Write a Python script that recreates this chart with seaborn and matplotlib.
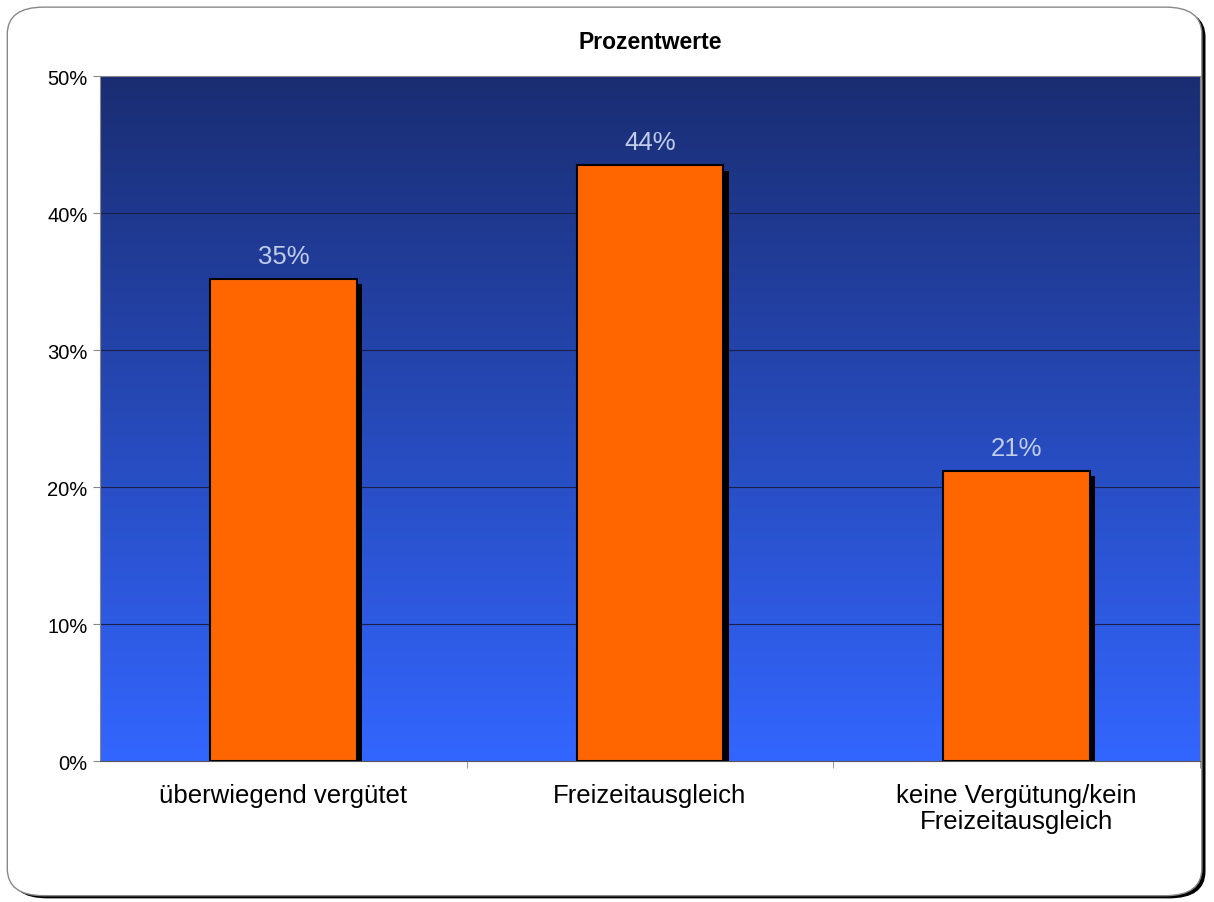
import matplotlib.pyplot as plt
import matplotlib.patheffects as pe
from matplotlib.colors import LinearSegmentedColormap
from matplotlib.patches import FancyBboxPatch
from matplotlib.ticker import FixedLocator
import seaborn as sns
import pandas as pd
import numpy as np

sns.set_style("white")
plt.rcParams['font.family'] = ['Liberation Sans', 'DejaVu Sans']

categories = ['überwiegend vergütet', 'Freizeitausgleich', 'keine Vergütung/kein\nFreizeitausgleich']
values = [35.2, 43.5, 21.2]
labels = ['35%', '44%', '21%']
df = pd.DataFrame({'Kategorie': categories, 'Wert': values})

fig = plt.figure(figsize=(12.14, 9.03), dpi=100)

# rounded frame with shadow around the whole chart
shadow = FancyBboxPatch((0.009, 0.004), 0.984, 0.984, boxstyle="round,pad=0,rounding_size=0.03",
                        transform=fig.transFigure, facecolor='black', edgecolor='none', zorder=0)
frame = FancyBboxPatch((0.006, 0.007), 0.984, 0.984, boxstyle="round,pad=0,rounding_size=0.03",
                       transform=fig.transFigure, facecolor='white', edgecolor='#888888', lw=1, zorder=1)
fig.patches.extend([shadow, frame])

ax = fig.add_axes([0.0824, 0.156, 0.906, 0.7587])
ax.set_zorder(2)

# gradient background
cmap = LinearSegmentedColormap.from_list('bg', ['#3366ff', '#1a2d72'])
grad = np.linspace(0, 1, 256).reshape(-1, 1)
ax.imshow(grad, aspect='auto', cmap=cmap, origin='lower', extent=[-0.5, 2.5, 0, 50], zorder=0)

for y in [10, 20, 30, 40]:
    ax.axhline(y, color='#1a1f4a', lw=0.8, zorder=1)

sns.barplot(data=df, x='Kategorie', y='Wert', color='#ff6600', width=0.4,
            edgecolor='black', linewidth=1.5, ax=ax, zorder=3, saturation=1)
for bar in ax.patches:
    bar.set_path_effects([pe.SimplePatchShadow(offset=(4, -4), shadow_rgbFace='black', alpha=1), pe.Normal()])

ax.bar_label(ax.containers[0], labels=labels, padding=8, color='#c0cce8', fontsize=18.5)

ax.set_xlim(-0.5, 2.5)
ax.set_ylim(0, 50)
ax.set_yticks([0, 10, 20, 30, 40, 50])
ax.set_yticklabels(['0%', '10%', '20%', '30%', '40%', '50%'], fontsize=14.5, color='black')
ax.tick_params(axis='y', length=5, color='#888888', left=True, pad=4)
ax.tick_params(axis='x', which='major', length=0, labelsize=18.5, pad=16, labelcolor='black')
for t in ax.get_xticklabels():
    t.set_linespacing(1.1)
ax.xaxis.set_minor_locator(FixedLocator([0.5, 1.5, 2.5]))
ax.tick_params(axis='x', which='minor', length=5, color='#888888', bottom=True)
ax.set_xlabel('')
ax.set_ylabel('')
for s in ['left', 'top', 'right']:
    ax.spines[s].set_color('#888888')
ax.spines['bottom'].set_color('#555555')

ax.set_title('Prozentwerte', fontsize=16.5, fontweight='bold', pad=20, color='black')

fig.savefig('out.png', dpi=100)
